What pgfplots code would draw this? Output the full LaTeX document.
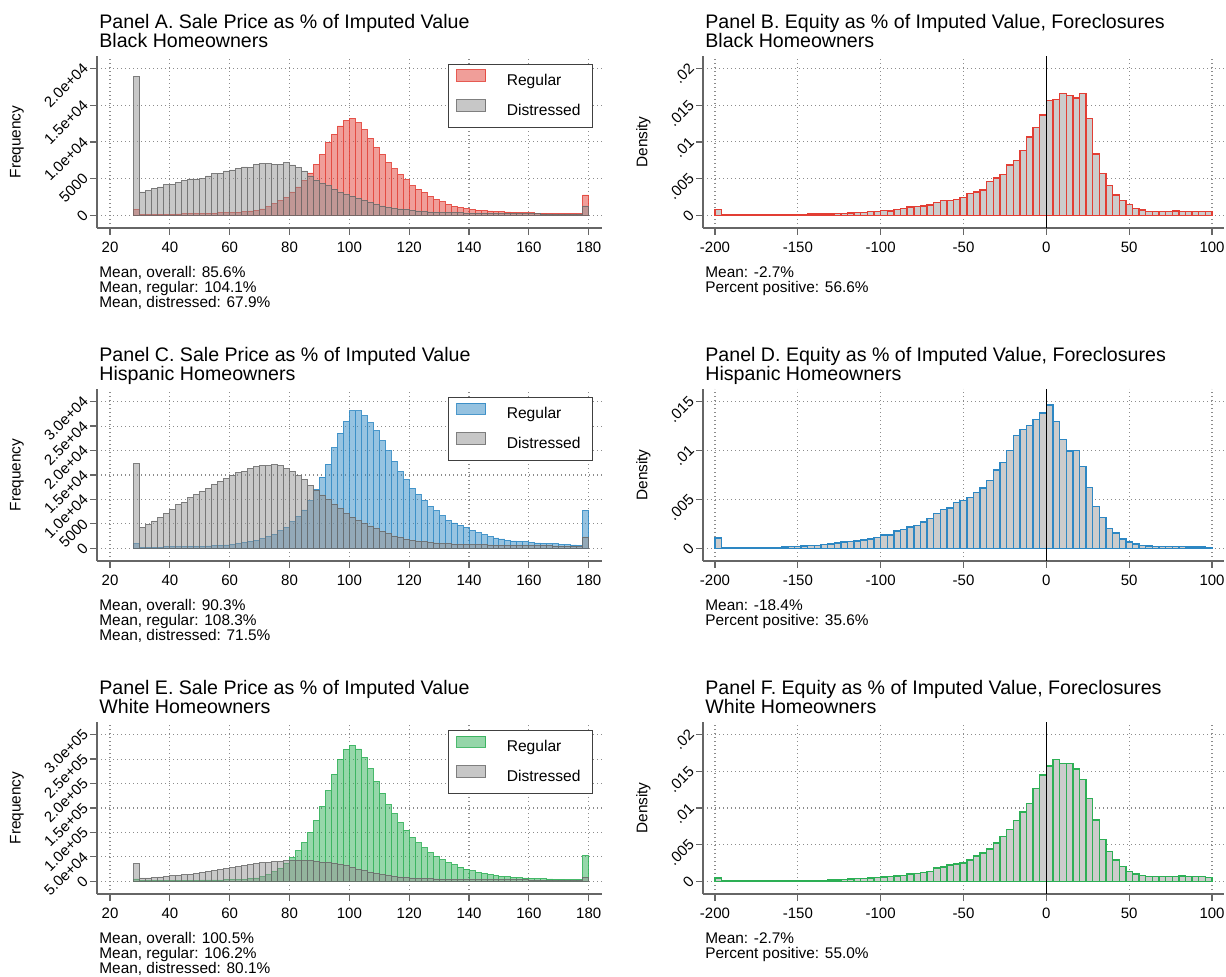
\documentclass[border=0pt]{standalone}
\usepackage{fontspec}
\setmainfont{Liberation Sans}
\usepackage{pgfplots}
\usepackage{pgfplotstable}
\pgfplotsset{compat=1.18}

\definecolor{sred}{RGB}{226,62,52}
\definecolor{sblue}{RGB}{45,135,195}
\definecolor{sgreen}{RGB}{45,175,85}
\definecolor{sgray}{RGB}{145,145,145}
\definecolor{sgrayline}{RGB}{105,105,105}

\newcommand{\smallfont}{\fontsize{7.7}{9.4}\selectfont}
\newcommand{\tickfont}{\fontsize{7.5}{9}\selectfont}
\newcommand{\titlefont}{\fontsize{9.8}{11}\selectfont}

% sale price as % of imputed value: bin centre, regular, distressed (frequency)
\pgfplotstableread{
x reg dis
29 770 18900
31 90 3180
33 90 3320
35 100 3680
37 110 3860
39 130 4140
41 160 4230
43 180 4500
45 200 4730
47 220 4950
49 230 4950
51 250 5000
53 280 5360
55 300 5640
57 330 5730
59 360 6040
61 380 6180
63 430 6410
65 480 6590
67 590 6540
69 680 6950
71 860 7040
73 1140 7040
75 1640 6950
77 2050 6950
79 2450 7180
81 3180 6860
83 3860 6500
85 4730 6040
87 5770 5360
89 6950 4770
91 8270 4360
93 9910 4000
95 11040 3550
97 12180 3090
99 12910 2800
101 13230 2600
103 12590 2320
105 11680 2050
107 10500 1770
109 9270 1500
111 8320 1270
113 7230 1050
115 6320 910
117 5550 860
119 4820 820
121 4050 680
123 3550 590
125 3140 500
127 2590 450
129 2180 410
131 1820 380
133 1500 360
135 1230 340
137 1050 320
139 910 300
141 820 280
143 700 270
145 650 260
147 590 250
149 545 240
151 500 230
153 450 220
155 410 210
157 370 200
159 340 200
161 320 190
163 300 190
165 280 180
167 260 180
169 240 170
171 230 170
173 220 160
175 210 160
177 200 160
179 2770 1270
}\tabA

\pgfplotstableread{
x reg dis
29 890 17250
31 200 4230
33 200 4840
35 200 5590
37 200 6340
39 300 7160
41 300 7980
43 300 8870
45 300 9410
47 400 10300
49 400 10980
51 400 11660
53 480 12280
55 540 13090
57 600 13710
59 680 14190
61 820 14940
63 950 15410
65 1160 15750
67 1430 16230
69 1640 16640
71 1980 16980
73 2390 16850
75 2860 17050
77 3550 16850
79 4300 16230
81 5390 15750
83 6550 14800
85 7840 14120
87 9750 12890
89 12070 11870
91 14530 10910
93 17190 10030
95 20530 9000
97 23530 8050
99 25980 7030
101 28100 6380
103 28100 5660
105 27080 4980
107 25640 4570
109 24010 3960
111 21960 3480
113 19910 3000
115 17800 2520
117 15690 2180
119 13980 1840
121 12280 1640
123 11050 1430
125 9820 1300
127 8590 1160
129 7640 1090
131 6680 950
133 5730 890
135 5180 850
137 4710 820
139 4300 780
141 3680 750
143 3210 720
145 2730 690
147 2390 680
149 2110 650
151 1910 620
153 1640 600
155 1500 580
157 1430 560
159 1360 550
161 1230 540
163 1090 520
165 1020 500
167 950 490
169 890 480
171 820 470
173 750 460
175 680 450
177 610 440
179 7770 2320
}\tabC

\pgfplotstableread{
x reg dis
29 4800 35600
31 2000 6850
33 2000 6850
35 2000 7540
37 2000 8900
39 2000 9590
41 2000 10960
43 2000 12330
45 2000 13000
47 2000 14400
49 2000 16400
51 2700 18500
53 2700 20500
55 2700 21900
57 2700 24000
59 3400 25300
61 3400 27400
63 3400 29500
65 4100 31500
67 5500 33600
69 6850 35600
71 9000 37700
73 13500 38400
75 19500 39700
77 27000 39700
79 36500 41800
81 48000 41800
83 62300 42500
85 78800 42500
87 99300 41800
89 124000 40400
91 152800 39000
93 185600 38400
95 218500 36300
97 250000 34300
99 269900 31500
101 278100 28100
103 270600 24000
105 253500 21200
107 230200 18500
109 204100 15800
111 180200 13700
113 156900 11600
115 138400 10300
117 119900 8900
119 104100 8200
121 89700 6850
123 78800 6200
125 68500 5500
127 58900 5000
129 51400 4800
131 44500 4500
133 38400 4300
135 33600 4100
137 28800 4000
139 24700 3800
141 21200 3600
143 18500 3500
145 15800 3400
147 13700 3300
149 11600 3200
151 10300 3100
153 9600 3000
155 8200 2900
157 7500 2800
159 6850 2800
161 6200 2700
163 5500 2700
165 5500 2600
167 4800 2600
169 4100 2500
171 4100 2500
173 3400 2400
175 3400 2400
177 3400 2300
179 52700 7500
}\tabE

% equity as % of imputed value, foreclosures: bin centre, density B, D, F
\pgfplotstableread{
x b d f
-198 0.00082 0.00106 0.00046
-194 0.00005 0.00003 0.00005
-190 0.00005 0.00003 0.00005
-186 0.00005 0.00003 0.00005
-182 0.00006 0.00004 0.00005
-178 0.00007 0.00005 0.00005
-174 0.00008 0.00008 0.00005
-170 0.00008 0.00010 0.00005
-166 0.00009 0.00010 0.00005
-162 0.00010 0.00011 0.00005
-158 0.00010 0.00012 0.00005
-154 0.00011 0.00017 0.00010
-150 0.00012 0.00017 0.00010
-146 0.00013 0.00024 0.00010
-142 0.00016 0.00027 0.00010
-138 0.00015 0.00031 0.00010
-134 0.00018 0.00038 0.00014
-130 0.00020 0.00045 0.00018
-126 0.00022 0.00055 0.00018
-122 0.00026 0.00065 0.00023
-118 0.00032 0.00072 0.00032
-114 0.00036 0.00075 0.00037
-110 0.00042 0.00086 0.00041
-106 0.00048 0.00096 0.00046
-102 0.00055 0.00113 0.00050
-98 0.00068 0.00137 0.00059
-94 0.00060 0.00134 0.00064
-90 0.00082 0.00175 0.00073
-86 0.00096 0.00192 0.00082
-82 0.00114 0.00219 0.00100
-78 0.00123 0.00236 0.00110
-74 0.00128 0.00267 0.00123
-70 0.00141 0.00305 0.00137
-66 0.00173 0.00356 0.00183
-62 0.00205 0.00394 0.00196
-58 0.00205 0.00411 0.00224
-54 0.00219 0.00469 0.00237
-50 0.00241 0.00490 0.00251
-46 0.00301 0.00520 0.00292
-42 0.00319 0.00572 0.00347
-38 0.00346 0.00616 0.00388
-34 0.00460 0.00695 0.00443
-30 0.00506 0.00801 0.00521
-26 0.00560 0.00880 0.00607
-22 0.00688 0.01000 0.00703
-18 0.00747 0.01154 0.00831
-14 0.00884 0.01212 0.00945
-10 0.01066 0.01257 0.01059
-6 0.01198 0.01315 0.01269
-2 0.01367 0.01384 0.01447
2 0.01563 0.01466 0.01571
6 0.01576 0.01298 0.01662
10 0.01658 0.01110 0.01607
14 0.01636 0.00993 0.01607
18 0.01599 0.01000 0.01530
22 0.01658 0.00836 0.01388
26 0.01321 0.00623 0.01128
30 0.00838 0.00428 0.00836
34 0.00570 0.00315 0.00571
38 0.00410 0.00202 0.00406
42 0.00278 0.00158 0.00288
46 0.00200 0.00096 0.00205
50 0.00146 0.00065 0.00137
54 0.00091 0.00045 0.00100
58 0.00073 0.00027 0.00078
62 0.00055 0.00024 0.00064
66 0.00055 0.00017 0.00066
70 0.00052 0.00017 0.00066
74 0.00050 0.00017 0.00066
78 0.00059 0.00017 0.00066
82 0.00050 0.00017 0.00073
86 0.00055 0.00014 0.00064
90 0.00055 0.00014 0.00064
94 0.00050 0.00014 0.00064
98 0.00050 0.00010 0.00055
}\tabEq

\pgfplotsset{
  stata/.style={
    scale only axis, anchor=south west, height=86pt,
    axis x line*=bottom, axis y line*=left,
    axis line style={-, black!60, line width=0.6pt},
    tick align=outside, major tick length=3.5pt,
    tick style={black!60, line width=0.6pt},
    grid=major,
    major grid style={black!45, line width=0.55pt, dash pattern=on 0.55pt off 1.45pt},
    tick label style={font=\tickfont, black},
    yticklabel style={xshift=-1.5pt, yshift=2pt, rotate=45, anchor=east, inner sep=1pt},
    label style={font=\smallfont},
    scaled y ticks=false,
    /pgf/number format/assume math mode=true,
  },
  salepanel/.style={
    stata, width=252.35pt, xmin=15.65, xmax=184.35,
    xtick={20,40,...,180},
    xticklabels={20,40,60,80,100,120,140,160,180},
    ylabel={Frequency},
    ylabel style={at={(axis description cs:-0.1585,0.5)}, anchor=center},
    legend style={at={(axis description cs:1,1)}, anchor=north east,
      xshift=-4.35pt, yshift=-4pt, draw=black!75, line width=0.5pt,
      fill=white, inner xsep=4pt, inner ysep=2.5pt, row sep=3.5pt,
      font=\fontsize{7.8}{9.4}\selectfont,
      /tikz/every odd column/.append style={column sep=8.35pt}},
    legend cell align=left,
  },
  equitypanel/.style={
    stata, width=260.5pt, xmin=-207.24, xmax=107.24,
    xtick={-200,-150,...,100},
    xticklabels={-200,-150,-100,-50,0,50,100},
    ylabel={Density},
    ylabel style={at={(axis description cs:-0.1142,0.5)}, anchor=center},
  },
  swatch/.style={legend image code/.code={\draw[##1] (0pt,-0.05pt) rectangle (14.5pt,5.65pt);}},
  regbar/.style={ybar, bar width=2, bar shift=0pt, fill=#1, fill opacity=0.5,
    draw=#1, draw opacity=0.85, line width=0.45pt, swatch},
  disbar/.style={ybar, bar width=2, bar shift=0pt, fill=sgray, fill opacity=0.5,
    draw=sgrayline, draw opacity=0.85, line width=0.45pt, swatch},
  eqbar/.style={ybar, bar width=4, bar shift=0pt, fill=black!20,
    draw=#1, line width=0.7pt},
}

\begin{document}
\begin{tikzpicture}
\useasboundingbox (0,0) rectangle (613pt,-488.5pt);

% ---------- row 1 ----------
\begin{axis}[salepanel, at={(48.5pt,-114pt)}, ymin=-1732, ymax=21718,
  ytick={0,5000,10000,15000,20000},
  yticklabels={0,5000,1.0e+04,1.5e+04,2.0e+04}]
\addplot[regbar=sred] table[x=x,y=reg]{\tabA};
\addplot[disbar] table[x=x,y=dis]{\tabA};
\legend{Regular,Distressed}
\end{axis}

\begin{axis}[equitypanel, at={(351.5pt,-114pt)}, ymin=-0.001732, ymax=0.021718,
  ytick={0,0.005,0.01,0.015,0.02},
  yticklabels={0,.005,.01,.015,.02}]
\addplot[eqbar=sred] table[x=x,y=b]{\tabEq};
\draw[black, line width=0.6pt] ({axis cs:0,0} |- {rel axis cs:0,0}) -- ({axis cs:0,0} |- {rel axis cs:0,1});
\end{axis}

% ---------- row 2 ----------
\begin{axis}[salepanel, at={(48.5pt,-280.5pt)}, ymin=-2597, ymax=32577,
  ytick={0,5000,10000,15000,20000,25000,30000},
  yticklabels={0,5000,1.0e+04,1.5e+04,2.0e+04,2.5e+04,3.0e+04}]
\addplot[regbar=sblue] table[x=x,y=reg]{\tabC};
\addplot[disbar] table[x=x,y=dis]{\tabC};
\legend{Regular,Distressed}
\end{axis}

\begin{axis}[equitypanel, at={(351.5pt,-280.5pt)}, ymin=-0.001299, ymax=0.016289,
  ytick={0,0.005,0.01,0.015},
  yticklabels={0,.005,.01,.015}]
\addplot[eqbar=sblue] table[x=x,y=d]{\tabEq};
\draw[black, line width=0.6pt] ({axis cs:0,0} |- {rel axis cs:0,0}) -- ({axis cs:0,0} |- {rel axis cs:0,1});
\end{axis}

% ---------- row 3 ----------
\begin{axis}[salepanel, at={(48.5pt,-447pt)}, ymin=-25970, ymax=325770,
  ytick={0,50000,100000,150000,200000,250000,300000},
  yticklabels={0,5.0e+04,1.0e+05,1.5e+05,2.0e+05,2.5e+05,3.0e+05}]
\addplot[regbar=sgreen] table[x=x,y=reg]{\tabE};
\addplot[disbar] table[x=x,y=dis]{\tabE};
\legend{Regular,Distressed}
\end{axis}

\begin{axis}[equitypanel, at={(351.5pt,-447pt)}, ymin=-0.001732, ymax=0.021718,
  ytick={0,0.005,0.01,0.015,0.02},
  yticklabels={0,.005,.01,.015,.02}]
\addplot[eqbar=sgreen] table[x=x,y=f]{\tabEq};
\draw[black, line width=0.6pt] ({axis cs:0,0} |- {rel axis cs:0,0}) -- ({axis cs:0,0} |- {rel axis cs:0,1});
\end{axis}

% ---------- titles and notes ----------
\begin{scope}[every node/.style={anchor=base west, inner sep=0pt}]
\node[font=\titlefont] at (49.5pt,-14.5pt) {Panel A. Sale Price as \% of Imputed Value};
\node[font=\titlefont] at (49.5pt,-24pt) {Black Homeowners};
\node[font=\titlefont] at (352.5pt,-14.5pt) {Panel B. Equity as \% of Imputed Value, Foreclosures};
\node[font=\titlefont] at (352.5pt,-24pt) {Black Homeowners};
\node[font=\titlefont] at (49.5pt,-181pt) {Panel C. Sale Price as \% of Imputed Value};
\node[font=\titlefont] at (49.5pt,-190.5pt) {Hispanic Homeowners};
\node[font=\titlefont] at (352.5pt,-181pt) {Panel D. Equity as \% of Imputed Value, Foreclosures};
\node[font=\titlefont] at (352.5pt,-190.5pt) {Hispanic Homeowners};
\node[font=\titlefont] at (49.5pt,-347.5pt) {Panel E. Sale Price as \% of Imputed Value};
\node[font=\titlefont] at (49.5pt,-357pt) {White Homeowners};
\node[font=\titlefont] at (352.5pt,-347.5pt) {Panel F. Equity as \% of Imputed Value, Foreclosures};
\node[font=\titlefont] at (352.5pt,-357pt) {White Homeowners};

\node[font=\smallfont] at (49.5pt,-138.65pt) {Mean, overall: 85.6\%};
\node[font=\smallfont] at (49.5pt,-146.3pt) {Mean, regular: 104.1\%};
\node[font=\smallfont] at (49.5pt,-153.95pt) {Mean, distressed: 67.9\%};
\node[font=\smallfont] at (352.5pt,-138.65pt) {Mean: -2.7\%};
\node[font=\smallfont] at (352.5pt,-146.3pt) {Percent positive: 56.6\%};

\node[font=\smallfont] at (49.5pt,-305.15pt) {Mean, overall: 90.3\%};
\node[font=\smallfont] at (49.5pt,-312.8pt) {Mean, regular: 108.3\%};
\node[font=\smallfont] at (49.5pt,-320.45pt) {Mean, distressed: 71.5\%};
\node[font=\smallfont] at (352.5pt,-305.15pt) {Mean: -18.4\%};
\node[font=\smallfont] at (352.5pt,-312.8pt) {Percent positive: 35.6\%};

\node[font=\smallfont] at (49.5pt,-471.65pt) {Mean, overall: 100.5\%};
\node[font=\smallfont] at (49.5pt,-479.3pt) {Mean, regular: 106.2\%};
\node[font=\smallfont] at (49.5pt,-486.95pt) {Mean, distressed: 80.1\%};
\node[font=\smallfont] at (352.5pt,-471.65pt) {Mean: -2.7\%};
\node[font=\smallfont] at (352.5pt,-479.3pt) {Percent positive: 55.0\%};
\end{scope}
\end{tikzpicture}
\end{document}
